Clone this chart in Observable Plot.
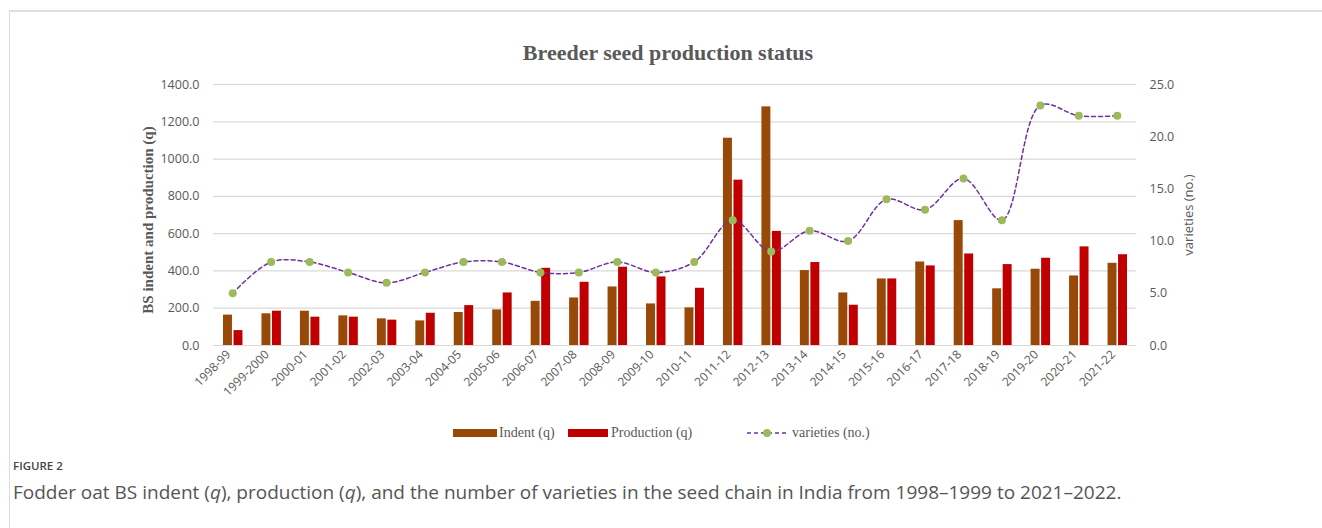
<!DOCTYPE html>
<html>
<head>
<meta charset="utf-8">
<script src="https://cdn.jsdelivr.net/npm/d3@7"></script>
<script src="https://cdn.jsdelivr.net/npm/@observablehq/plot@0.6"></script>
<style>
  html, body { margin: 0; padding: 0; width: 1322px; height: 528px; overflow: hidden; background: #fff; }
  #frame { position: absolute; left: 9px; top: 10px; width: 1400px; height: 600px; border-left: 1px solid #dcdcdc; border-top: 2px solid #e0e0e0; }
  #title { position: absolute; left: 0; width: 1336px; top: 40px; text-align: center; font: bold 22px "Liberation Serif", serif; color: #595959; }
  #chart { position: absolute; left: 0; top: 70px; }
  .leg { position: absolute; font: 14px "Liberation Serif", serif; color: #595959; line-height: 16px; }
  .sw { position: absolute; height: 8px; }
  #figlab { position: absolute; left: 13px; top: 458px; font: 600 11.5px "Open Sans", sans-serif; color: #444; }
  #cap { position: absolute; left: 13px; top: 479px; font: 19px "Open Sans", sans-serif; color: #555; white-space: nowrap; }
</style>
</head>
<body>
<div id="frame"></div>
<div id="title">Breeder seed production status</div>
<div id="chart"></div>
<div class="sw" style="left:453px;top:429px;width:44px;background:#984807"></div>
<div class="leg" style="left:499px;top:425px">Indent (q)</div>
<div class="sw" style="left:568px;top:429px;width:40px;background:#C00000"></div>
<div class="leg" style="left:611px;top:425px">Production (q)</div>
<svg style="position:absolute;left:745px;top:426px" width="45" height="14"><line x1="2" y1="7" x2="42" y2="7" stroke="#7030A0" stroke-width="1.5" stroke-dasharray="4,3"/><circle cx="22" cy="7" r="4" fill="#9BBB59"/></svg>
<div class="leg" style="left:792px;top:425px">varieties (no.)</div>
<div id="figlab">FIGURE 2</div>
<div id="cap">Fodder oat BS indent (<i>q</i>), production (<i>q</i>), and the number of varieties in the seed chain in India from 1998–1999 to 2021–2022.</div>
<script>
const seasons = ["1998-99","1999-2000","2000-01","2001-02","2002-03","2003-04","2004-05","2005-06","2006-07","2007-08","2008-09","2009-10","2010-11","2011-12","2012-13","2013-14","2014-15","2015-16","2016-17","2017-18","2018-19","2019-20","2020-21","2021-22"];
const indent = [163,170,184,159,143,132,177,191,237,255,314,223,202,1112,1280,402,282,357,448,670,304,409,373,441];
const production = [80,184,152,152,136,173,214,282,414,339,420,368,307,887,612,445,216,357,427,491,434,468,529,487];
const varieties = [5,8,8,7,6,7,8,8,7,7,8,7,8,12,9,11,10,14,13,16,12,23,22,22];
const leftTicks = [0,200,400,600,800,1000,1200,1400];
const rightTicks = [0,5,10,15,20,25];
const rightMax = 25;
const leftMax = 1400;
const ratio = leftMax / rightMax;

const rows = seasons.map((s, i) => ({season: s, indent: indent[i], production: production[i], varieties: varieties[i]}));

const chart = Plot.plot({
  width: 1322,
  height: 350,
  marginLeft: 213,
  marginRight: 186,
  marginTop: 14,
  marginBottom: 75,
  style: {fontFamily: "'Open Sans', sans-serif", fontSize: "12px", color: "#595959", background: "transparent"},
  x: {domain: seasons, padding: 0, round: false, label: null},
  y: {domain: [0, leftMax], label: null},
  marks: [
    Plot.gridY(leftTicks, {stroke: "#d9d9d9", strokeOpacity: 1, strokeWidth: 1.2}),
    Plot.barY(rows, {x: "season", y: "indent", fill: "#984807", insetLeft: 10, insetRight: 19.5}),
    Plot.barY(rows, {x: "season", y: "production", fill: "#C00000", insetLeft: 20.5, insetRight: 9}),
    Plot.line(rows, {x: "season", y: d => d.varieties * ratio, stroke: "#7030A0", strokeWidth: 1.5, strokeDasharray: "4,3", curve: "catmull-rom"}),
    Plot.dot(rows, {x: "season", y: d => d.varieties * ratio, r: 4, fill: "#9BBB59", stroke: "none"}),
    Plot.axisY(leftTicks, {anchor: "left", tickSize: 0, tickPadding: 14, tickFormat: d => d.toFixed(1), label: null, fontSize: 12.5}),
    Plot.axisY(rightTicks.map(v => v * ratio), {anchor: "right", tickSize: 0, tickPadding: 13, tickFormat: d => (d / ratio).toFixed(1), label: null, fontSize: 12.5}),
    Plot.axisX({tickRotate: -45, tickSize: 0, tickPadding: 6, label: null, fontSize: 12, dx: -4, dy: 1}),
    Plot.text(["BS indent and production (q)"], {frameAnchor: "left", textAnchor: "middle", text: d => d, rotate: -90, dx: -65, dy: 5, fontSize: 15, fontWeight: "bold", fontFamily: "Liberation Serif", fill: "#595959"}),
    Plot.text(["varieties (no.)"], {frameAnchor: "right", textAnchor: "middle", text: d => d, rotate: -90, dx: 52, fontSize: 13, fill: "#595959"})
  ]
});
document.getElementById("chart").appendChild(chart);
</script>
</body>
</html>
